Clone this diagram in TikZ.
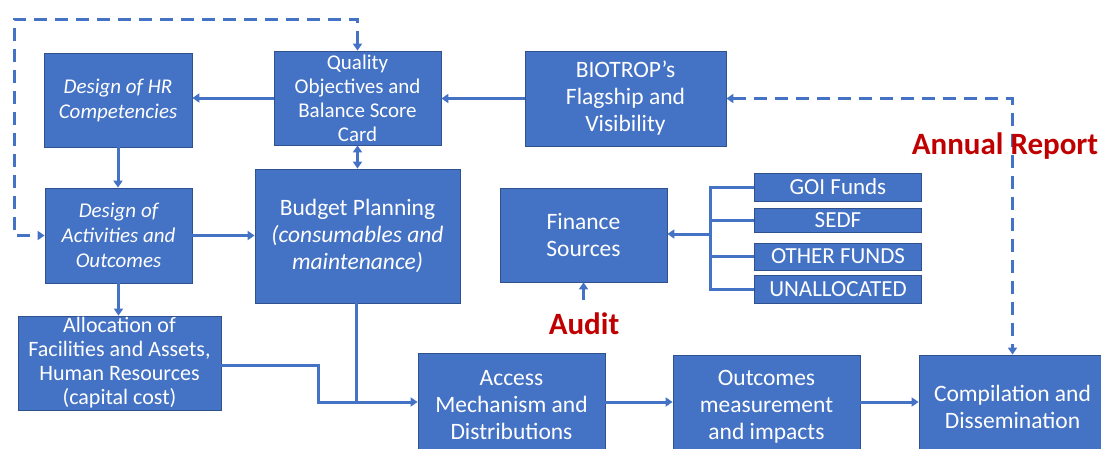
\documentclass[tikz,border=0pt]{standalone}
\usepackage{fontspec}
\setmainfont{Carlito}
\usetikzlibrary{arrows.meta}
\definecolor{boxblue}{HTML}{4472C4}
\definecolor{boxedge}{HTML}{2F528F}
\definecolor{repred}{HTML}{C00000}
\begin{document}
\begin{tikzpicture}[x=1pt,y=-1pt,
  box/.style={draw=boxedge, line width=0.8pt, fill=boxblue, text=white, align=center, inner sep=0pt},
  conn/.style={draw=boxblue, line width=3pt},
  arr/.style={conn, -{Triangle[length=7pt,width=9pt]}},
  darr/.style={conn, {Triangle[length=7pt,width=9pt]}-{Triangle[length=7pt,width=9pt]}},
  dline/.style={draw=boxblue, line width=3pt, dash pattern=on 13pt off 8pt, {Triangle[length=7pt,width=9pt]}-{Triangle[length=7pt,width=9pt]}},
  fsmall/.style={font=\fontsize{21}{24}\selectfont},
  falloc/.style={font=\fontsize{22}{24}\selectfont},
  fmid/.style={font=\fontsize{21}{25}\selectfont\itshape},
  fbig/.style={font=\fontsize{23.5}{27}\selectfont},
  ffund/.style={font=\fontsize{23}{26}\selectfont},
  label/.style={text=repred, font=\fontsize{31}{36}\selectfont\bfseries, inner sep=0pt}
]
\useasboundingbox (0,0) rectangle (1101,448);
\clip (0,0) rectangle (1101,448);
\fill[white] (0,0) rectangle (1101,448);

% nodes
\node[box, fmid, minimum width=148pt, minimum height=94pt] (hr) at (118,100) {Design of HR\\Competencies};
\node[box, fsmall, minimum width=167pt, minimum height=94pt] (qual) at (357.5,98) {Quality\\Objectives and\\Balance Score\\Card};
\node[box, fbig, minimum width=201pt, minimum height=95pt] (bio) at (625.5,98.5) {BIOTROP’s\\Flagship and\\Visibility};
\node[box, fmid, minimum width=147pt, minimum height=95pt] (act) at (118.5,235.5) {Design of\\Activities and\\Outcomes};
\node[box, fbig, minimum width=205pt, minimum height=134pt] (bud) at (357.5,236) {Budget Planning\\\textit{(consumables and}\\\textit{maintenance)}};
\node[box, fbig, minimum width=167pt, minimum height=94pt] (fin) at (583.5,235) {Finance\\Sources};
\node[box, ffund, minimum width=167pt, minimum height=28pt] (goi) at (838,187) {GOI Funds};
\node[box, ffund, minimum width=167pt, minimum height=24pt] (sedf) at (838,220) {SEDF};
\node[box, ffund, minimum width=167pt, minimum height=27pt] (oth) at (838,256.5) {OTHER FUNDS};
\node[box, ffund, minimum width=167pt, minimum height=28pt] (una) at (838,289) {UNALLOCATED};
\node[box, falloc, minimum width=203pt, minimum height=94pt] (alloc) at (119.5,363) {Allocation of\\Facilities and Assets,\\Human Resources\\(capital cost)};
\node[box, fbig, minimum width=187pt, minimum height=104pt] (acc) at (511.5,405) {Access\\Mechanism and\\Distributions};
\node[box, fbig, minimum width=187pt, minimum height=104pt] (outc) at (766.5,407) {Outcomes\\measurement\\and impacts};
\node[box, fbig, minimum width=187pt, minimum height=104pt] (comp) at (1012.5,407) {Compilation and\\Dissemination};

% coordinates
\coordinate (tl) at (14,19);
\coordinate (br) at (710,234);
\coordinate (au) at (583.5,300);
\coordinate (jx) at (318,365);
\coordinate (jy) at (356,402);

% connectors
\draw[arr] (qual.west) -- (hr.east |- qual.west);
\draw[arr] (bio.west) -- (qual.east |- bio.west);
\draw[arr] (hr.south) -- (act.north -| hr.south);
\draw[darr] (qual.south) -- (bud.north);
\draw[arr] (act.east) -- (bud.west |- act.east);
\draw[arr] (br) -- (fin.east |- br);
\draw[arr] (au) -- (fin.south);
\draw[arr] (act.south) -- (alloc.north -| act.south);
\draw[conn] (goi.west) -| (br);
\draw[conn] (una.west) -| (br);
\draw[conn] (sedf.west) -- (sedf.west -| br);
\draw[conn] (oth.west) -- (oth.west -| br);
\draw[arr] (alloc.east |- jx) -- (jx) |- (acc.west |- jy);
\draw[conn] (bud.south -| jy) -- (jy);
\draw[arr] (acc.east |- jy) -- (outc.west |- jy);
\draw[arr] (outc.east |- jy) -- (comp.west |- jy);

% dashed feedback loops
\draw[dline] (qual.north) |- (tl) |- (act.west);
\draw[dline] (bio.east) -| (comp.north);

% labels
\node[label] (annual) at (1005,146) {Annual Report};
\node[label] (audit) at (584,324) {Audit};
\end{tikzpicture}
\end{document}
